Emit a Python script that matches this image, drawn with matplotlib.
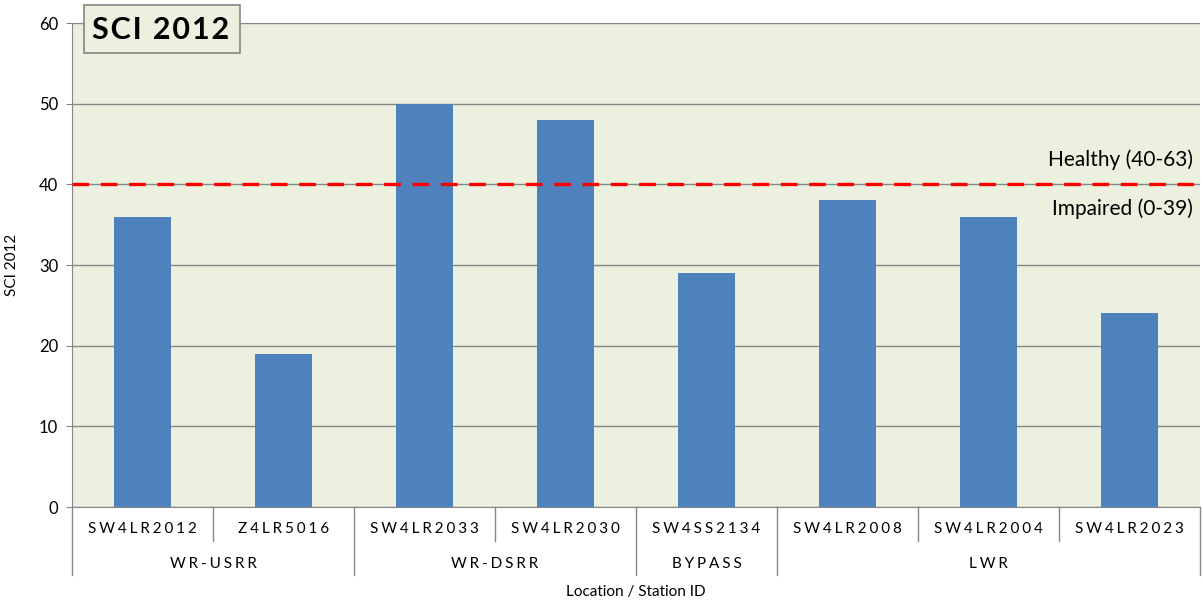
import matplotlib
matplotlib.use("Agg")
import matplotlib.pyplot as plt
from matplotlib.patches import Rectangle

# data
stations = ["SW4LR2012", "Z4LR5016", "SW4LR2033", "SW4LR2030",
            "SW4SS2134", "SW4LR2008", "SW4LR2004", "SW4LR2023"]
sci_values = [36, 19, 50, 48, 29, 38, 36, 24]
groups = ["WR-USRR", "WR-DSRR", "BYPASS", "LWR"]
group_sizes = [2, 2, 1, 3]
threshold = 40

plt.rcParams['font.family'] = ['Lato', 'DejaVu Sans']

bg = '#EBF1DE'
bar_color = '#4F81BD'
line_gray = '#868686'
W, H = 1203, 603


def spaced(s, gap='\u2009\u200a'):
    # mimic the wide letter spacing of the category labels
    return gap.join(s)


fig = plt.figure(figsize=(W / 100, H / 100), dpi=100)
ax = fig.add_axes([72 / W, 96 / H, 1128 / W, 484 / H])
ax.set_facecolor(bg)

x = list(range(len(stations)))
ax.bar(x, sci_values, width=0.4, color=bar_color, zorder=3)

ax.set_xlim(-0.5, len(stations) - 0.5)
ax.set_ylim(0, 60)
ax.set_yticks(range(0, 61, 10))
ax.yaxis.grid(True, color=line_gray, linewidth=1)
ax.set_axisbelow(True)
ax.tick_params(axis='y', labelsize=12, length=4, color=line_gray, pad=6)
ax.set_xticks([])

for side in ['top', 'right']:
    ax.spines[side].set_visible(False)
ax.spines['left'].set_color(line_gray)
ax.spines['bottom'].set_color(line_gray)

ax.set_ylabel('SCI 2012', fontsize=11, labelpad=14)

# threshold line and labels
ax.axhline(threshold, color='#FF0000', linewidth=2.4, linestyle=(0, (5, 3.5)), zorder=4)
ax.text(0.994, threshold + 3, 'Healthy (40-63)', transform=ax.get_yaxis_transform(),
        ha='right', va='center', fontsize=15)
ax.text(0.994, threshold - 3, 'Impaired (0-39)', transform=ax.get_yaxis_transform(),
        ha='right', va='center', fontsize=15)

# two-level category axis
tr = ax.get_xaxis_transform()
for i, name in enumerate(stations):
    ax.text(i, -0.0455, spaced(name), transform=tr, ha='center', va='center', fontsize=11)

bounds = [-0.5]
for n in group_sizes:
    bounds.append(bounds[-1] + n)
for i in range(1, len(stations)):
    edge = i - 0.5
    low = -0.1405 if edge in bounds else -0.0702
    ax.plot([edge, edge], [0, low], transform=tr, color=line_gray, linewidth=1, clip_on=False)
for edge in (bounds[0], bounds[-1]):
    ax.plot([edge, edge], [0, -0.1405], transform=tr, color=line_gray, linewidth=1, clip_on=False)
for g, lo, hi in zip(groups, bounds[:-1], bounds[1:]):
    ax.text((lo + hi) / 2, -0.1178, spaced(g), transform=tr, ha='center', va='center', fontsize=11)

ax.text(0.5, -0.1756, 'Location / Station ID', transform=ax.transAxes,
        ha='center', va='center', fontsize=11)

# title box
fig.add_artist(Rectangle((84 / W, 1 - 53 / H), 156 / W, 48 / H, transform=fig.transFigure,
                         facecolor=bg, edgecolor=line_gray, linewidth=1.2, zorder=6))
fig.text(161 / W, 1 - 30 / H, spaced('SCI 2012', '\u200a'), ha='center', va='center',
         fontsize=22, fontweight='bold', zorder=7)

fig.savefig('out.png', dpi=100)
